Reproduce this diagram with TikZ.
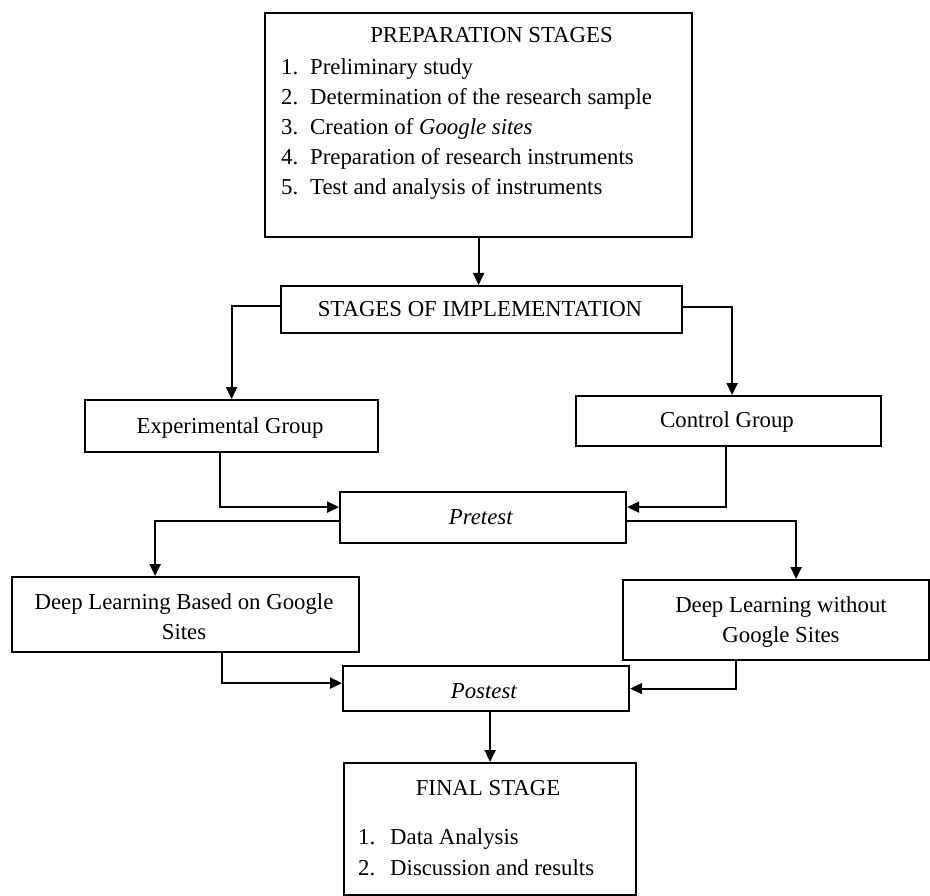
\documentclass[tikz,border=0pt]{standalone}
\usepackage{fontspec}
\setmainfont{Liberation Serif}
\usetikzlibrary{arrows.meta,calc}
\begin{document}
\begin{tikzpicture}[x=1pt,y=-1pt,
  box/.style={draw, line width=2.2pt, rectangle, inner sep=0pt, anchor=north west},
  txt/.style={inner sep=0pt, font=\fontsize{22.8}{30}\selectfont},
  arr/.style={line width=2pt, -{Triangle[width=11pt,length=12pt]}}]
\useasboundingbox (0,0) rectangle (930,896);
% boxes
\node[box, minimum width=427pt, minimum height=224pt] (prep) at (264,12) {};
\node[box, minimum width=401pt, minimum height=47pt] (stages) at (280,285) {};
\node[box, minimum width=293pt, minimum height=52pt] (exp) at (84,399) {};
\node[box, minimum width=305pt, minimum height=50pt] (ctrl) at (575,395) {};
\node[box, minimum width=286pt, minimum height=51pt] (pre) at (339,491) {};
\node[box, minimum width=347pt, minimum height=75pt] (dll) at (11,576) {};
\node[box, minimum width=306pt, minimum height=80pt] (dlr) at (622,579) {};
\node[box, minimum width=286pt, minimum height=45pt] (post) at (342,665) {};
\node[box, minimum width=292pt, minimum height=132pt] (fin) at (343,762) {};
% texts
\node[txt, anchor=base] (prept) at (491.5,43) {PREPARATION STAGES};
\node[txt, anchor=base west] (n1) at (281,75) {1.};
\node[txt, anchor=base west] (i1) at (310,75) {Preliminary study};
\node[txt, anchor=base west] (n2) at (281,105) {2.};
\node[txt, anchor=base west] (i2) at (310,105) {Determination of the research sample};
\node[txt, anchor=base west] (n3) at (281,135) {3.};
\node[txt, anchor=base west] (i3) at (310,135) {Creation of \textit{Google sites}};
\node[txt, anchor=base west] (n4) at (281,165) {4.};
\node[txt, anchor=base west] (i4) at (310,165) {Preparation of research instruments};
\node[txt, anchor=base west] (n5) at (281,195) {5.};
\node[txt, anchor=base west] (i5) at (310,195) {Test and analysis of instruments};
\node[txt, anchor=base] (stt) at (480,317) {STAGES OF IMPLEMENTATION};
\node[txt, anchor=base] (expt) at (230,433) {Experimental Group};
\node[txt, anchor=base] (ctrlt) at (727,427) {Control Group};
\node[txt, anchor=base] (pret) at (481,524) {\textit{Pretest}};
\node[txt, anchor=base] (dllt1) at (184,609) {Deep Learning Based on Google};
\node[txt, anchor=base] (dllt2) at (184,639) {Sites};
\node[txt, anchor=base] (dlrt1) at (781,612) {Deep Learning without};
\node[txt, anchor=base] (dlrt2) at (781,642) {Google Sites};
\node[txt, anchor=base] (postt) at (484,698) {\textit{Postest}};
\node[txt, anchor=base] (fint) at (488,795) {FINAL STAGE};
\node[txt, anchor=base west] (f1n) at (358,844) {1.};
\node[txt, anchor=base west] (f1) at (390,844) {Data Analysis};
\node[txt, anchor=base west] (f2n) at (358,875) {2.};
\node[txt, anchor=base west] (f2) at (390,875) {Discussion and results};
% connectors
\draw[arr] (prep.south) -- (prep.south |- stages.north);
\draw[arr] ([yshift=4pt]stages.west) -| (exp.north);
\draw[arr] ([yshift=2.5pt]stages.east) -| ([xshift=3.5pt]ctrl.north);
\draw[arr] ([xshift=-11.5pt]exp.south) |- ([yshift=10.5pt]pre.west);
\draw[arr] ([xshift=-2.5pt]ctrl.south) |- ([yshift=10.5pt]pre.east);
\draw[arr] ([yshift=-3.5pt]pre.west) -| ([xshift=-30.5pt]dll.north);
\draw[arr] ([yshift=-3.5pt]pre.east) -| ([xshift=20pt]dlr.north);
\draw[arr] ([xshift=36.5pt]dll.south) |- ([yshift=5.5pt]post.west);
\draw[arr] ([xshift=-40pt]dlr.south) |- (post.east);
\draw[arr] (post.south -| fin.north) -- (fin.north);
\end{tikzpicture}
\end{document}
